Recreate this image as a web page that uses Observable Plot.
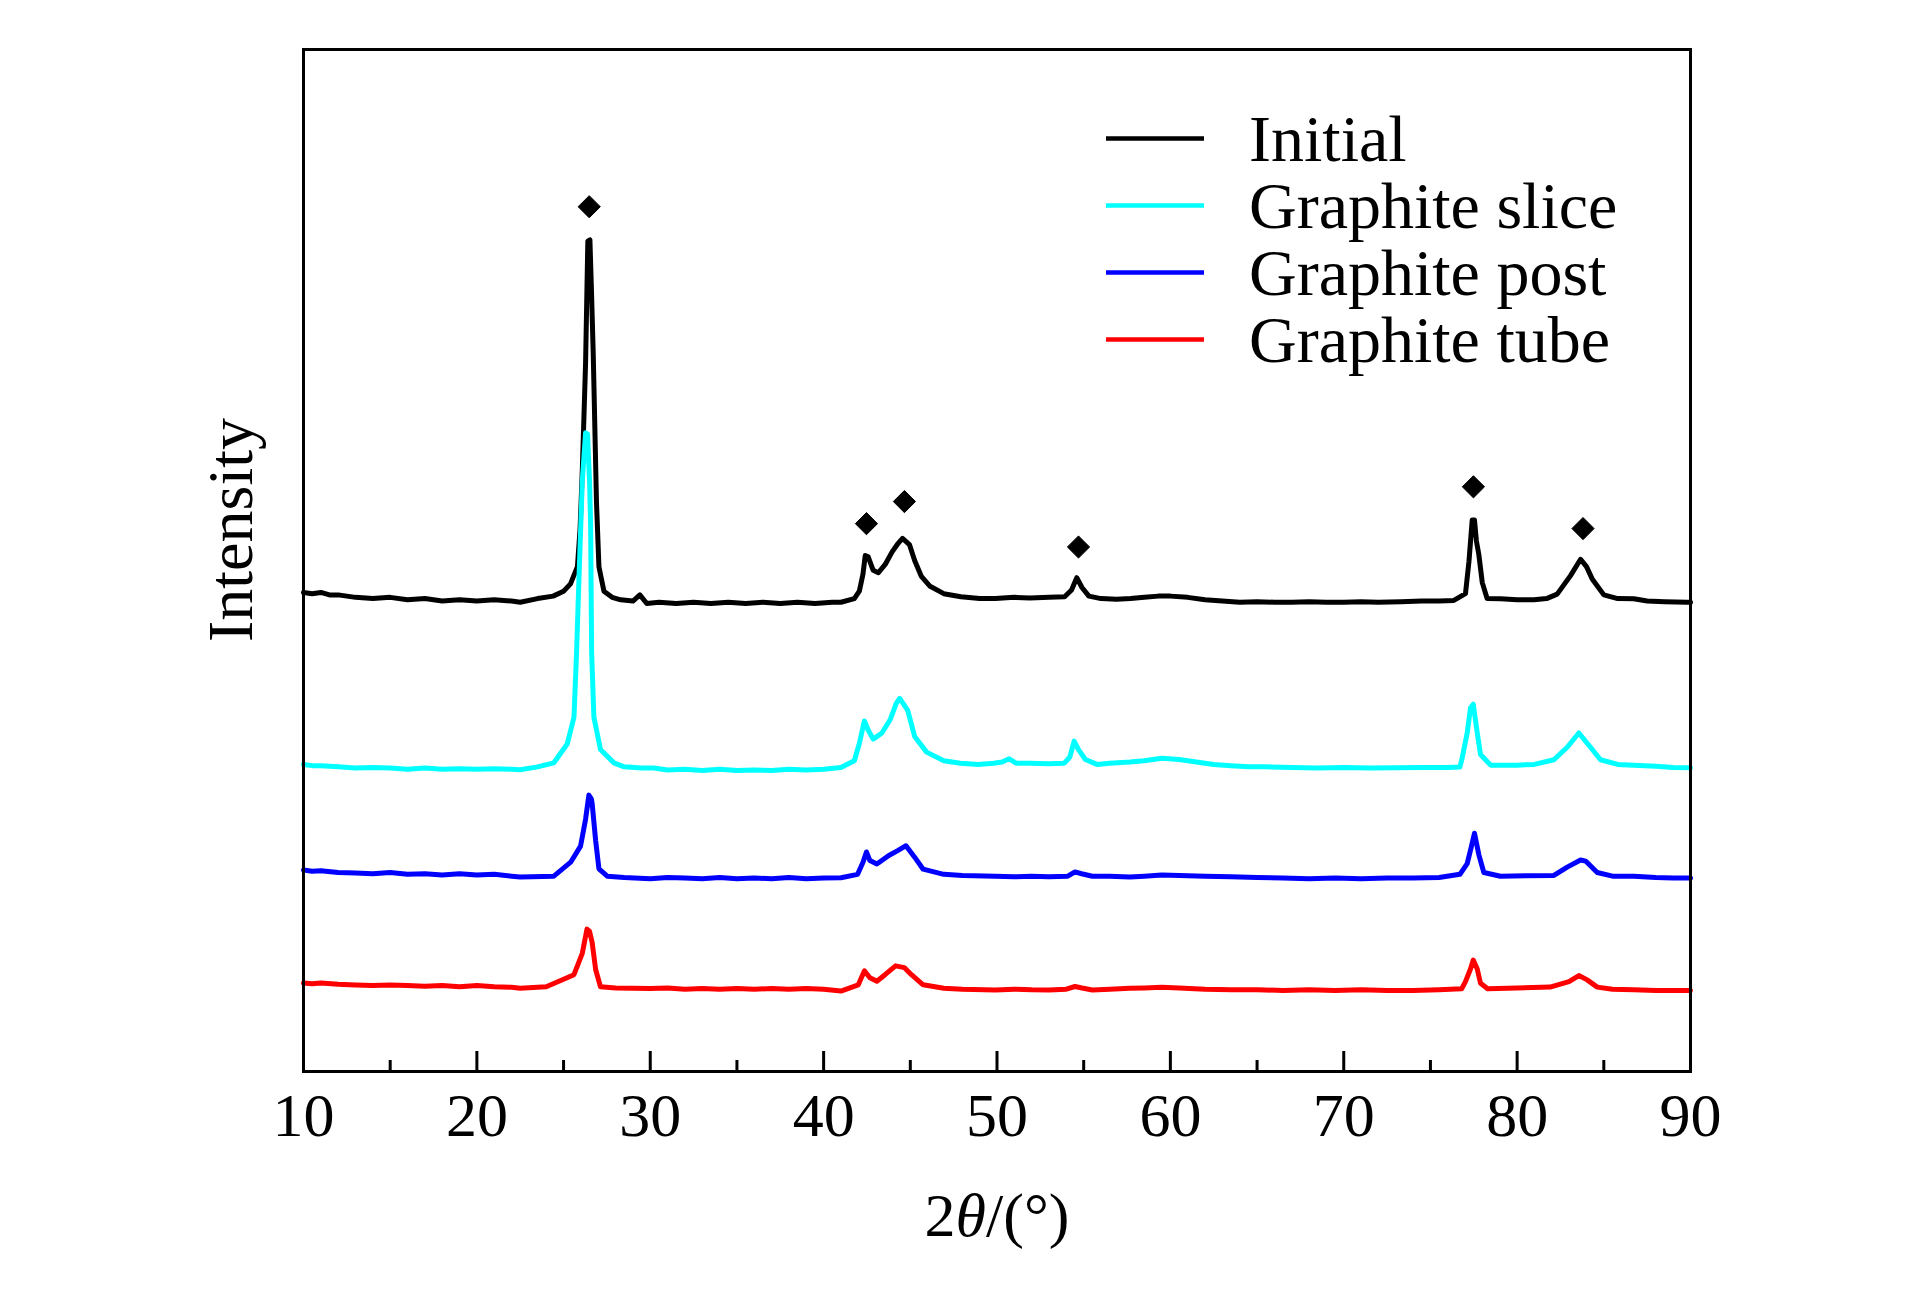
<!DOCTYPE html>
<html><head><meta charset="utf-8">
<script src="https://cdn.jsdelivr.net/npm/d3@7"></script>
<script src="https://cdn.jsdelivr.net/npm/@observablehq/plot@0.6"></script>
<style>html,body{margin:0;padding:0;background:#fff;}</style>
</head><body><div id="chart"></div>
<script>
const seriesNames = ["Initial", "Graphite slice", "Graphite post", "Graphite tube"];
const seriesColors = ["#000000", "#00ffff", "#0000ff", "#ff0000"];
const majorTicks = [10, 20, 30, 40, 50, 60, 70, 80, 90];
const minorTicks = [15, 25, 35, 45, 55, 65, 75, 85];
const xTitle = ["2", "θ", "/(°)"];
const yTitle = "Intensity";

// [2θ, intensity (arbitrary, offset stacked)]
const initial = [[10,390],[10.5,389],[11,390],[11.5,388],[12,388],[13,386],[14,385],[15,386],[16,384],[17,385],[18,383],[19,384],[20,383],[21,384],[22,383],[22.5,382],[23.5,385],[24.4,387],[25,391],[25.4,397],[25.8,411],[25.95,441],[26.08,489],[26.27,577],[26.4,676],[26.52,677],[26.6,640],[26.71,585],[26.9,463],[27.04,411],[27.33,391],[27.8,386],[28.3,384],[29,383],[29.4,388],[29.8,381],[30.5,382],[31.5,381],[32.5,382],[33.5,381],[34.5,382],[35.5,381],[36.5,382],[37.5,381],[38.5,382],[39.5,381],[40.5,382],[41,382],[41.77,385],[42.06,391],[42.27,405],[42.4,420],[42.57,419],[42.86,408],[43.16,406],[43.56,413],[43.95,423],[44.3,430],[44.55,434],[44.95,429],[45.25,416],[45.64,403],[46.14,395],[46.93,389],[47.92,386.5],[49,385],[49.9,385],[51,386],[51.9,385.5],[53,386],[53.9,386.5],[54.3,392],[54.6,402],[54.9,394],[55.3,387],[56,385],[56.9,384.5],[57.7,385],[58.5,386],[59.3,387],[60,387],[61,386],[62,384],[63,383],[64,382],[65,382.5],[66,382],[67,382],[68,382.5],[69,382],[70,382],[71,382.5],[72,382],[73.3,382.5],[74.5,383],[75.5,383],[76.35,383.5],[77.02,389],[77.22,415],[77.41,449],[77.54,449],[77.65,432],[77.79,421],[77.99,398],[78.27,385],[79.04,384.8],[80,384],[80.97,384],[81.7,385],[82.31,388.6],[83.08,403.7],[83.66,417],[84,411],[84.33,401],[85,388],[85.8,385],[86.73,384.8],[87.5,383],[88.5,382.5],[89.81,382],[90,382]];

const slice = [[10,250],[10.5,249],[11,249],[12,248],[13,247],[14,247.5],[15,247],[16,246],[17,247],[18,246],[19,246.5],[20,246],[21,246.5],[22,246],[22.5,245.6],[23.5,248],[24.44,251.3],[25.21,266.6],[25.6,288.4],[25.75,340.8],[25.89,402],[26.08,480.6],[26.27,520],[26.38,519],[26.5,480],[26.56,445.7],[26.62,340.8],[26.75,288.4],[27.13,262.2],[27.9,251.3],[28.5,248],[29.5,247],[30.2,247],[31,245.5],[32,246],[33,245],[34,246],[35,245],[36,245.5],[37,245],[38,246],[39,245.5],[40,246],[41,247.5],[41.77,253],[42.06,267],[42.35,285.4],[42.57,278],[42.86,270.6],[43.36,275.6],[43.85,286.8],[44.2,300],[44.39,303.7],[44.85,294],[45.25,272.8],[45.94,260],[46.93,253],[47.9,251],[48.92,250],[49.8,251],[50.3,252],[50.7,254.6],[51.1,251],[51.9,251],[53,250.5],[53.88,251],[54.2,256],[54.45,269],[54.7,262],[55.1,254],[55.77,250],[56.5,251],[57.66,252],[58.5,253],[59.5,255],[60.5,254],[61.5,252],[62.5,250],[63.5,249],[64.5,248],[65.5,248],[67,247.5],[68.5,247],[70,247.5],[71.5,247],[73,247.3],[74.5,247.5],[76,247.5],[76.7,247.9],[76.83,255.2],[77.12,275.6],[77.31,296],[77.47,299],[77.7,275.6],[77.89,258],[78.47,249.4],[80,249.4],[81,250],[82.12,253.8],[82.89,264],[83.56,275.6],[84.23,264],[84.81,253.8],[85.8,250],[86.73,249.4],[88,248.5],[89,247.5],[90,247.3]];

const post = [[10,164],[10.5,163],[11,163.5],[12,162],[13,161.5],[14,161],[15,162],[16,160.5],[17,161],[18,160],[19,161],[20,160],[21,160.5],[22,159],[22.5,158.3],[24.44,159],[25.41,170.4],[25.98,183.5],[26.27,205.4],[26.46,225],[26.6,222],[26.65,218],[26.85,188],[27.04,165],[27.52,159],[28.5,158],[30,157],[31,158],[32,157.5],[33,157],[34,158],[35,157],[36,157.5],[37,157],[38,158],[39,157],[40,157.5],[41,157.7],[41.96,160.5],[42.27,170.3],[42.47,178.7],[42.67,171.7],[43.07,168.9],[43.76,175.9],[44.3,180],[44.75,183.8],[45.25,174.5],[45.74,164.7],[46.93,160.5],[48,159.5],[49.91,159],[51,158.5],[52,159],[53,158.5],[54.08,159],[54.5,162.5],[54.88,161],[55.5,159],[56.5,159],[57.66,158.3],[58.5,159],[59.5,160],[60.5,159.5],[62,159],[63.5,158.5],[65,158],[66.5,157.5],[68,157],[69.5,157.5],[71,157],[72.5,157.5],[74,157.6],[75.5,158],[76.7,160.5],[77.12,169.3],[77.35,182.4],[77.54,194],[77.79,176.6],[78.08,162],[79.04,159],[80.5,159.3],[82.12,159.6],[82.89,166.4],[83.66,172.2],[83.95,171.3],[84.62,162],[85.5,159],[86.73,159],[88,158],[89,157.6],[90,157.6]];

const tube = [[10,72],[10.5,71.5],[11,72],[12,71],[13,70.5],[14,70],[15,70.5],[16,70],[17,69.5],[18,70],[19,69],[20,70],[21,69],[22,68.5],[22.5,67.8],[24,69],[25.6,78.8],[26.08,96.2],[26.35,115.9],[26.5,114],[26.65,105],[26.85,83],[27.13,69],[28,68],[29,67.8],[30,67.5],[31,68],[32,67],[33,67.5],[34,67],[35,67.5],[36,67],[37,67.5],[38,67],[39,67.5],[40,67],[41,65.5],[42,70.6],[42.35,81.9],[42.67,76.3],[43.07,73.5],[43.56,79],[44.15,86],[44.65,84.6],[45.05,79],[45.74,70.6],[46.93,67.8],[48,67],[49.9,66.4],[51,67],[52,66.5],[53,66.4],[54,67],[54.5,69.2],[54.9,68],[55.5,66.4],[56.5,67],[57.66,67.8],[58.5,68],[59.5,68.5],[60.5,68],[62,67],[63.5,66.5],[65,66.5],[66.5,66],[68,66.5],[69.5,66],[71,66.5],[72.5,66],[74,66],[75.5,66.5],[76.8,67.3],[77.02,73.2],[77.31,83.4],[77.47,90.7],[77.7,83.4],[77.89,71.8],[78.3,67.3],[80,68],[81.9,68.7],[82.99,73.2],[83.56,78.1],[84.04,74.6],[84.62,68.7],[85.5,67],[86.73,66.5],[88,66],[89,66],[90,65.9]];

const peakX = [26.48, 42.47, 44.66, 54.7, 77.48, 83.8];
const peakY = [704, 446, 464, 427, 476, 442];

const seriesData = [initial, slice, post, tube];
const rows = [];
seriesData.forEach((arr, i) => arr.forEach(([x, y]) => rows.push({name: seriesNames[i], x, y})));
const peaks = peakX.map((x, i) => ({x, y: peakY[i]}));

const plot = Plot.plot({
  width: 1923, height: 1299,
  marginLeft: 303, marginRight: 233, marginTop: 49, marginBottom: 228,
  x: {domain: [10, 90]},
  y: {domain: [0, 832], axis: null},
  color: {domain: seriesNames, range: seriesColors},
  style: {fontFamily: "Liberation Serif", fontSize: "62px", background: "white", color: "black", overflow: "visible"},
  marks: [
    Plot.line(rows, {x: "x", y: "y", z: "name", stroke: "name", strokeWidth: 5, strokeLinejoin: "round"}),
    Plot.dot(peaks, {x: "x", y: "y", symbol: "diamond2", fill: "black", stroke: "black", strokeWidth: 1, r: 10}),
    Plot.axisX({ticks: majorTicks, tickSize: -20, strokeWidth: 3, tickFormat: () => "", label: null}),
    Plot.axisX({ticks: minorTicks, tickSize: -11, strokeWidth: 3, tickFormat: () => "", label: null}),
    Plot.axisX({ticks: majorTicks, tickSize: 0, tickPadding: 20, fontSize: 62, label: null}),
    Plot.frame({stroke: "black", strokeWidth: 3})
  ]
});
document.getElementById("chart").appendChild(plot);

const svg = d3.select(plot);
const lg = svg.append("g").attr("font-family", "Liberation Serif").attr("font-size", 66).attr("text-anchor", "start");
seriesNames.forEach((n, i) => {
  const ly = 138.6 + i * 67;
  lg.append("line").attr("x1", 1106).attr("x2", 1204).attr("y1", ly).attr("y2", ly)
    .attr("stroke", seriesColors[i]).attr("stroke-width", 4.5);
  lg.append("text").attr("x", 1249).attr("y", ly + 22).attr("fill", "black").attr("text-anchor", "start").text(n);
});

const xt = svg.append("text").attr("x", 997).attr("y", 1236).attr("text-anchor", "middle")
  .attr("font-family", "Liberation Serif").attr("font-size", 62).attr("fill", "black");
xt.append("tspan").text(xTitle[0]);
xt.append("tspan").attr("font-style", "italic").text(xTitle[1]);
xt.append("tspan").text(xTitle[2]);

svg.append("text").attr("transform", "translate(252,530) rotate(-90)").attr("text-anchor", "middle")
  .attr("font-family", "Liberation Serif").attr("font-size", 64).attr("fill", "black").text(yTitle);
</script>
</body></html>
